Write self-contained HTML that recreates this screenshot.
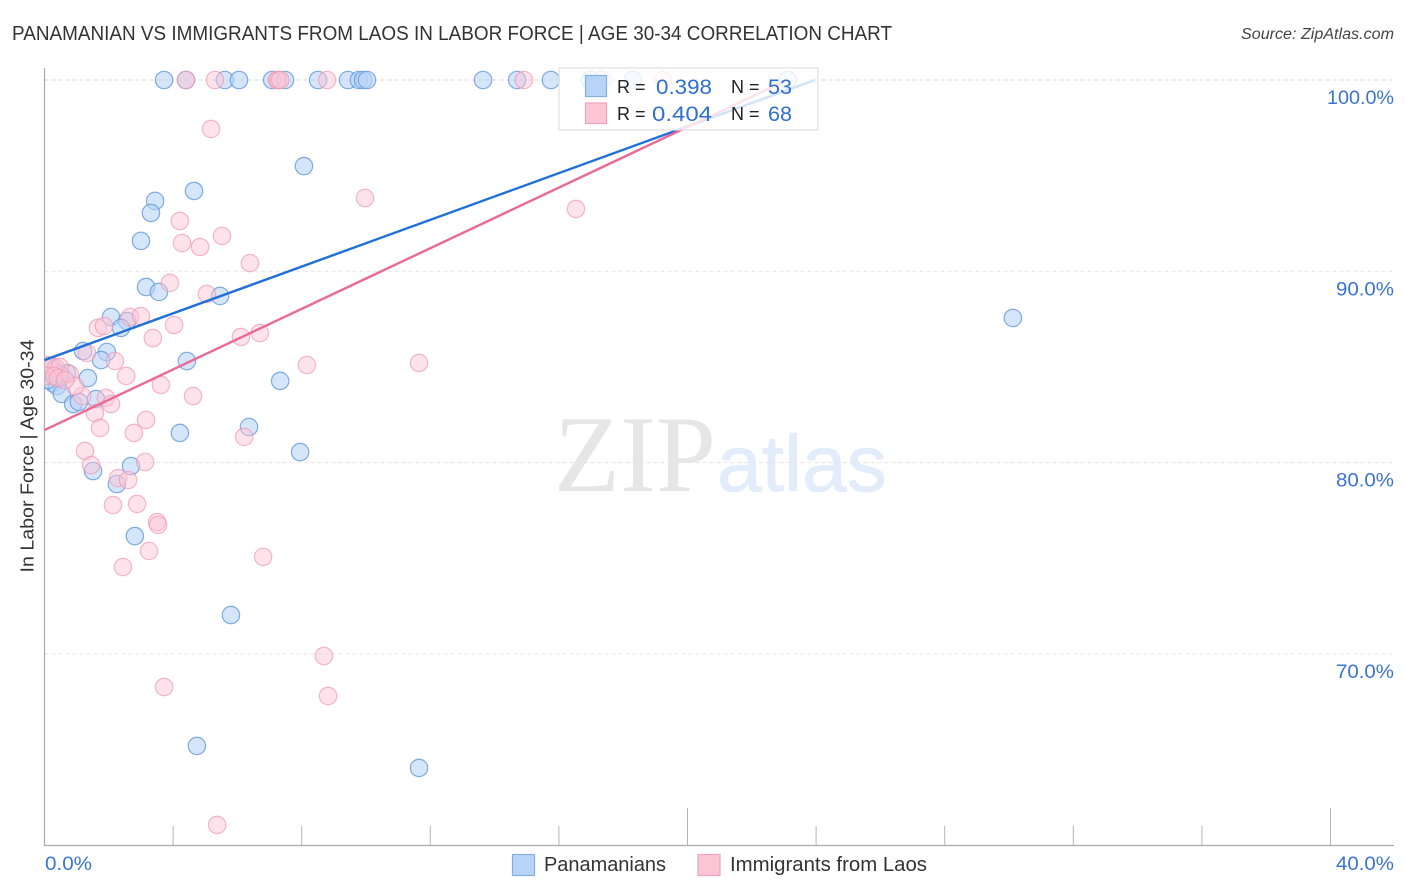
<!DOCTYPE html>
<html lang="en">
<head>
<meta charset="utf-8">
<title>Panamanian vs Immigrants from Laos in Labor Force Correlation Chart</title>
<style>
html,body{margin:0;padding:0;background:#fff;width:1406px;height:892px;overflow:hidden}
svg{display:block;font-family:"Liberation Sans",sans-serif}
</style>
</head>
<body>
<svg id="chart" width="1406" height="892" viewBox="0 0 1406 892" xmlns="http://www.w3.org/2000/svg">
  <defs><clipPath id="plot-clip"><rect x="44.5" y="60" width="1350" height="785"/></clipPath></defs>
  <text x="12" y="40" font-size="20" fill="#333" textLength="880" lengthAdjust="spacingAndGlyphs">PANAMANIAN VS IMMIGRANTS FROM LAOS IN LABOR FORCE | AGE 30-34 CORRELATION CHART</text>
  <text x="1394" y="39" font-size="15.5" font-style="italic" fill="#444" text-anchor="end" textLength="153" lengthAdjust="spacingAndGlyphs">Source: ZipAtlas.com</text>
  <g>
    <text x="554" y="491" font-family="'Liberation Serif',serif" font-size="109" fill="#e6e6e6" textLength="162" lengthAdjust="spacingAndGlyphs">ZIP</text>
    <text x="717" y="491" font-family="'Liberation Sans',sans-serif" font-size="80" fill="#e2ecfa" stroke="#e2ecfa" stroke-width="0.8" textLength="170" lengthAdjust="spacingAndGlyphs">atlas</text>
  </g>
  <g id="grid"></g>
  <g id="axes"></g>
  <g id="points" clip-path="url(#plot-clip)"></g>
  <g id="trends"></g>
  <g>
    <rect x="559" y="68" width="259" height="62" fill="#fff" fill-opacity="0.8" stroke="#dfdfdf" stroke-width="1.2"/>
    <rect x="585.5" y="75.5" width="21" height="21" fill="#b7d3f7" stroke="#86aee6" stroke-width="1.2"/>
    <rect x="585.5" y="103" width="21" height="20.5" fill="#fcc5d6" stroke="#f0a4bc" stroke-width="1.2"/>
    <text x="617" y="93" font-size="18" fill="#222">R =</text>
    <text x="656" y="94" font-size="21.5" fill="#2f6fd0" textLength="56" lengthAdjust="spacingAndGlyphs">0.398</text>
    <text x="731" y="93" font-size="18" fill="#222">N =</text>
    <text x="768" y="94" font-size="21.5" fill="#2f6fd0" textLength="24" lengthAdjust="spacingAndGlyphs">53</text>
    <text x="617" y="120" font-size="18" fill="#222">R =</text>
    <text x="652" y="121" font-size="21.5" fill="#2f6fd0" textLength="60" lengthAdjust="spacingAndGlyphs">0.404</text>
    <text x="731" y="120" font-size="18" fill="#222">N =</text>
    <text x="768" y="121" font-size="21.5" fill="#2f6fd0" textLength="24" lengthAdjust="spacingAndGlyphs">68</text>
  </g>
  <g>
    <rect x="512.5" y="854.5" width="22" height="21" fill="#b7d3f7" stroke="#86aee6" stroke-width="1.2"/>
    <text x="544" y="871" font-size="20" fill="#333" textLength="122" lengthAdjust="spacingAndGlyphs">Panamanians</text>
    <rect x="698" y="854.5" width="22" height="21" fill="#fcc5d6" stroke="#f0a4bc" stroke-width="1.2"/>
    <text x="730" y="871" font-size="20" fill="#333" textLength="197" lengthAdjust="spacingAndGlyphs">Immigrants from Laos</text>
  </g>
  <text transform="translate(33.5,456) rotate(-90)" font-size="18.5" fill="#333" text-anchor="middle" textLength="233" lengthAdjust="spacingAndGlyphs">In Labor Force | Age 30-34</text>
</svg>
<script>
const blueX = [3.72,4.40,5.61,6.05,7.08,7.48,8.51,9.44,9.78,9.91,10.03,13.64,14.70,15.75,16.97,18.30,23.12,
  8.07,4.65,3.44,3.31,3.00,3.16,3.56,5.46,2.07,2.57,2.38,30.12,1.20,1.94,1.76,4.43,7.33,1.35,
  0.17,0.26,0.39,0.54,0.70,0.89,1.07,1.60,0.11,0.48,
  6.36,4.21,7.95,2.69,1.51,2.25,2.81,5.80,4.74,11.65];
const blueY = [100,100,100,100,100,100,100,100,100,100,100,100,100,100,100,100,100,
  95.50,94.20,93.68,93.05,91.59,89.18,88.92,88.71,87.61,87.40,87.04,87.56,85.83,85.78,85.36,85.31,84.27,84.42,
  85.05,84.16,84.00,83.59,84.68,83.06,83.17,83.32,84.32,84.63,
  81.86,81.55,80.55,79.82,79.56,78.88,76.16,72.03,65.19,64.04];
const pinkX = [4.40,5.30,7.23,7.26,7.33,8.79,14.91,17.34,19.24,
  5.18,9.97,16.53,4.21,5.52,4.28,4.84,6.39,3.90,5.05,2.66,3.00,1.66,1.85,4.03,3.37,6.11,6.70,1.32,2.19,8.16,11.65,
  2.54,3.62,4.62,1.91,2.07,1.17,1.57,3.16,2.78,6.21,1.73,1.26,3.13,1.45,2.29,2.60,2.13,2.88,3.50,3.53,3.25,6.80,2.44,
  8.69,8.82,3.72,5.37,
  0.11,0.23,0.36,0.48,0.08,0.30,0.42,0.79,0.95,0.64];
const pinkY = [100,100,100,100,100,100,100,100,100,
  97.44,93.83,93.26,92.63,91.85,91.48,91.27,90.43,89.39,88.81,87.61,87.66,87.04,87.14,87.19,86.51,86.57,86.77,85.73,85.31,85.10,85.21,
  84.53,84.06,83.48,83.38,83.06,83.48,82.59,82.23,81.55,81.34,81.81,80.61,80.03,79.87,79.19,79.09,77.78,77.84,76.89,76.74,75.38,75.07,74.54,
  69.89,67.80,68.27,61.06,
  85.10,85.05,84.95,85.00,84.53,84.53,84.42,84.63,84.00,84.32];
const blueTrendX = [0,23.97];
const blueTrendY = [85.36,100];
const pinkTrendX = [0,23.1];
const pinkTrendY = [81.7,100];
const yTicks = [100,90,80,70];
const yTickLabels = ["100.0%","90.0%","80.0%","70.0%"];
const xTicks = [4,8,12,16,20,24,28,32,36,40];
const xMajorTicks = [20,40];
const xEndLabels = ["0.0%","40.0%"];

const sx = v => 44.5 + v * 32.15;
const sy = v => 80 + (100 - v) * 19.13;
const NS = 'http://www.w3.org/2000/svg';
function make(tag, parent, attrs) {
  const el = document.createElementNS(NS, tag);
  for (const k in attrs) el.setAttribute(k, attrs[k]);
  parent.appendChild(el);
  return el;
}
const grid = document.getElementById('grid');
const axes = document.getElementById('axes');
const pts = document.getElementById('points');
const trends = document.getElementById('trends');

yTicks.forEach((t, i) => {
  const g = make('line', grid, {x1: 44.5, x2: 1394, y1: sy(t), y2: sy(t), stroke: i === 0 ? '#d4d4d4' : '#e4e4e4', 'stroke-width': 1, 'stroke-dasharray': '4 3'});
  
  
  const l = make('text', axes, {x: 1394, y: sy(t) + 24, 'font-size': 19.5, fill: '#3a74d2', 'text-anchor': 'end', textLength: yTickLabels[i].length === 6 ? 67 : 58, lengthAdjust: 'spacingAndGlyphs'});
  
  
  l.textContent = yTickLabels[i];
});

const yAxis = make('line', axes, {x1: 44.5, x2: 44.5, y1: 68, y2: 845.5, stroke: '#aaa', 'stroke-width': 1.2});


const xAxis = make('line', axes, {x1: 44, x2: 1394, y1: 845.5, y2: 845.5, stroke: '#aaa', 'stroke-width': 1.2});



xTicks.forEach(t => {
  const major = xMajorTicks.includes(t);
  const k = make('line', axes, {x1: sx(t), x2: sx(t), y1: major ? 808 : 826, y2: 845, stroke: '#b5b5b5', 'stroke-width': 1});
  
  
});

const xl0 = make('text', axes, {x: 45, y: 870, 'font-size': 19.5, fill: '#3a74d2', textLength: 47, lengthAdjust: 'spacingAndGlyphs'});


xl0.textContent = xEndLabels[0];
const xl1 = make('text', axes, {x: 1394, y: 870, 'font-size': 19.5, fill: '#3a74d2', 'text-anchor': 'end', textLength: 58, lengthAdjust: 'spacingAndGlyphs'});


xl1.textContent = xEndLabels[1];

blueX.forEach((v, i) => {
  const c = make('circle', pts, {cx: sx(v), cy: sy(blueY[i]), r: 8.7, fill: '#b7d3f7', 'fill-opacity': 0.58, stroke: '#6a9ddf', 'stroke-opacity': 0.85, 'stroke-width': 1.2});
  
  
});
pinkX.forEach((v, i) => {
  const c = make('circle', pts, {cx: sx(v), cy: sy(pinkY[i]), r: 8.7, fill: '#fcc5d6', 'fill-opacity': 0.48, stroke: '#ee9ab5', 'stroke-opacity': 0.7, 'stroke-width': 1.2});
  
  
});

const tb = make('line', trends, {x1: sx(blueTrendX[0]), y1: sy(blueTrendY[0]), x2: sx(blueTrendX[1]), y2: sy(blueTrendY[1]), stroke: '#2070d8', 'stroke-width': 2.4});


const tp = make('line', trends, {x1: sx(pinkTrendX[0]), y1: sy(pinkTrendY[0]), x2: sx(pinkTrendX[1]), y2: sy(pinkTrendY[1]), stroke: '#e96a94', 'stroke-width': 2.4});


</script>
</body>
</html>
